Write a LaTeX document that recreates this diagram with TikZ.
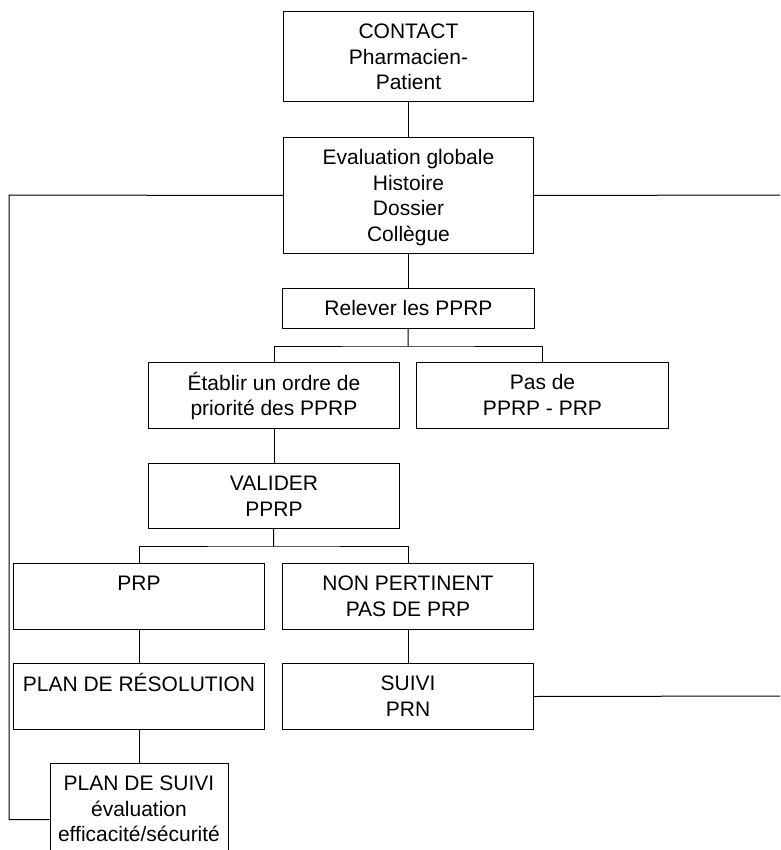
\documentclass[tikz,border=0pt]{standalone}
\usepackage{fontspec}
\setmainfont{Liberation Sans}
\usepackage{tikz}

\newcommand{\boitetexte}[3]{\parbox[t][#2][t]{#1}{\centering\vspace*{9.5pt}\strut #3}}

\begin{document}
\begin{tikzpicture}[
				x = 1pt, y = -1pt,
				boite/.style = {draw, line width=1pt, inner sep=0pt, anchor=north west, font=\fontsize{21}{25.5}\selectfont},
				trait/.style = {line width=1pt}
				]
				\useasboundingbox (0,0) rectangle (780,850);
				\clip (0,0) rectangle (780,850);
				
				\node [boite] (contact) at (283,11) {\boitetexte{250pt}{90pt}{CONTACT\\Pharmacien-\\Patient}};
				\node [boite] (evaluation) at (283,137) {\boitetexte{250pt}{116pt}{Evaluation globale\\Histoire\\Dossier\\Collègue}};
				\node [boite] (relever) at (282,288) {\boitetexte{252pt}{40pt}{Relever les PPRP}};
				\node [boite] (etablir) at (148,362) {\boitetexte{251pt}{66pt}{Établir un ordre de\\priorité des PPRP}};
				\node [boite] (pasde) at (416,362) {\boitetexte{252pt}{66pt}{Pas de\\PPRP - PRP}};
				\node [boite] (valider) at (148,463) {\boitetexte{251pt}{65pt}{VALIDER\\PPRP}};
				\node [boite] (prp) at (13,563) {\boitetexte{251pt}{66pt}{PRP}};
				\node [boite] (nonpertinent) at (282,563) {\boitetexte{251pt}{66pt}{NON PERTINENT\\PAS DE PRP}};
				\node [boite] (resolution) at (13,663) {\boitetexte{251pt}{66pt}{PLAN DE RÉSOLUTION}};
				\node [boite] (suiviprn) at (282,663) {\boitetexte{251pt}{66pt}{SUIVI\\PRN}};
				\node [boite] (plansuivi) at (49.5,763) {\boitetexte{178pt}{112pt}{PLAN DE SUIVI\\évaluation\\efficacité/sécurité}};
				
				\coordinate (fourche1) at (408,346);
				\coordinate (fourche2) at (273.5,546);
				\coordinate (coingauche) at (9,195);
				\coordinate (sortiehaut) at (780,195);
				\coordinate (sortiebas) at (780,696);
				
				\draw [trait] (contact) -- (evaluation);
				\draw [trait] (evaluation) -- (relever);
				\draw [trait] (relever) -- (fourche1);
				\draw [trait] (etablir.north) |- (fourche1) -| (pasde.north);
				\draw [trait] (etablir) -- (valider);
				\draw [trait] (valider) -- (fourche2);
				\draw [trait] (prp.north) |- (fourche2) -| (nonpertinent.north);
				\draw [trait] (prp) -- (resolution);
				\draw [trait] (nonpertinent) -- (suiviprn);
				\draw [trait] (resolution) -- (plansuivi);
				\draw [trait] (evaluation.west) -- (coingauche) |- (plansuivi.west);
				\draw [trait] (evaluation.east) -- (sortiehaut);
				\draw [trait] (suiviprn.east) -- (sortiebas);
			\end{tikzpicture}
\end{document}
